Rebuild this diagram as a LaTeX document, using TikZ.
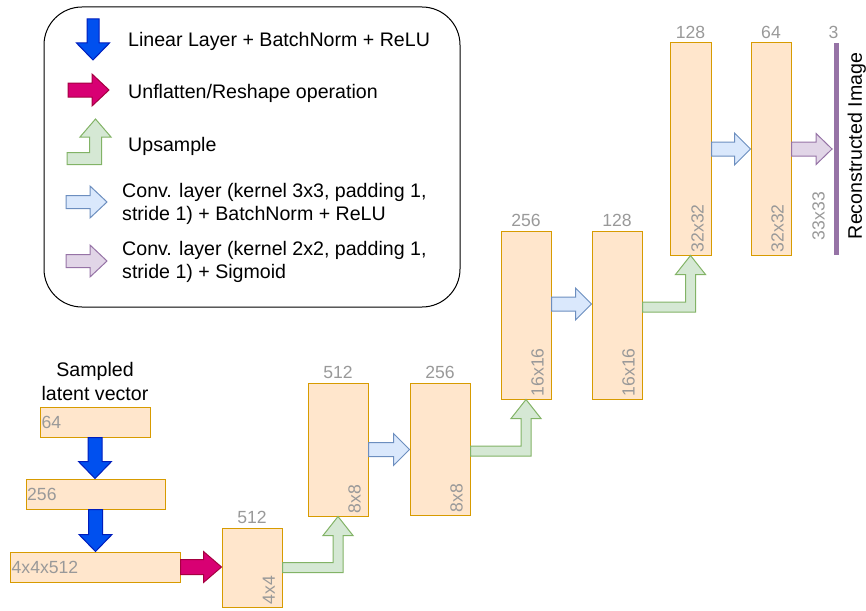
\documentclass[tikz,border=0pt]{standalone}
\usepackage{fontspec}
\setmainfont{Liberation Sans}
\usepackage{xcolor}
\usetikzlibrary{positioning,calc}

\definecolor{boxfill}{HTML}{FFE6CC}
\definecolor{boxline}{HTML}{D79B00}
\definecolor{dimgray}{HTML}{999999}
\definecolor{linfill}{HTML}{0050EF}
\definecolor{linline}{HTML}{001DBC}
\definecolor{rsfill}{HTML}{D80073}
\definecolor{rsline}{HTML}{A50040}
\definecolor{upfill}{HTML}{D5E8D4}
\definecolor{upline}{HTML}{82B366}
\definecolor{cvfill}{HTML}{DAE8FC}
\definecolor{cvline}{HTML}{6C8EBF}
\definecolor{sgfill}{HTML}{E1D5E7}
\definecolor{sgline}{HTML}{9673A6}

\tikzset{
  blk shaft/.store in=\blkS, blk head/.store in=\blkH, blk len/.store in=\blkL,
  blk shaft=7pt, blk head=16pt, blk len=17pt
}

\newcommand{\rightblk}[3]{%
  \draw[#1] let \p1=(#2), \p2=(#3) in
    (\x1,{\y1+\blkS}) -- ({\x2-\blkL},{\y1+\blkS}) -- ({\x2-\blkL},{\y1+\blkH})
    -- (\x2,\y1) -- ({\x2-\blkL},{\y1-\blkH}) -- ({\x2-\blkL},{\y1-\blkS})
    -- (\x1,{\y1-\blkS}) -- cycle;}
\newcommand{\downblk}[3]{%
  \draw[#1] let \p1=(#2), \p2=(#3) in
    ({\x1-\blkS},\y1) -- ({\x1+\blkS},\y1) -- ({\x1+\blkS},{\y2+\blkL})
    -- ({\x1+\blkH},{\y2+\blkL}) -- (\x1,\y2) -- ({\x1-\blkH},{\y2+\blkL})
    -- ({\x1-\blkS},{\y2+\blkL}) -- cycle;}
\newcommand{\upblk}[3]{%
  \draw[#1] let \p1=(#2), \p2=(#3) in
    (\x1,{\y1+\blkS}) -- ({\x2-\blkS},{\y1+\blkS}) -- ({\x2-\blkS},{\y2-\blkL})
    -- ({\x2-\blkH},{\y2-\blkL}) -- (\x2,\y2) -- ({\x2+\blkH},{\y2-\blkL})
    -- ({\x2+\blkS},{\y2-\blkL}) -- ({\x2+\blkS},{\y1-\blkS}) -- (\x1,{\y1-\blkS}) -- cycle;}

\begin{document}
\begin{tikzpicture}[x=1pt,y=-1pt,
  box/.style={draw=boxline,fill=boxfill,line width=1pt,inner sep=0},
  dim/.style={text=dimgray,font=\fontsize{17.6}{21}\selectfont,inner sep=0},
  txt/.style={font=\fontsize{19.6}{23.5}\selectfont,inner sep=0},
  linarr/.style={fill=linfill,draw=linline,line width=1pt,blk shaft=7pt,blk head=16.5pt,blk len=17pt},
  rsarr/.style={fill=rsfill,draw=rsline,line width=1pt,blk shaft=7.5pt,blk head=15.5pt,blk len=18pt},
  uparr/.style={fill=upfill,draw=upline,line width=1pt,blk shaft=5pt,blk head=15pt,blk len=19pt},
  cvarr/.style={fill=cvfill,draw=cvline,line width=1pt,blk shaft=7pt,blk head=16pt,blk len=16pt},
  sgarr/.style={fill=sgfill,draw=sgline,line width=1pt,blk shaft=7pt,blk head=15.5pt,blk len=16pt}]
  \useasboundingbox (0,0) rectangle (866,610);

  % legend
  \node[draw,line width=1pt,rounded corners=38pt,minimum width=416,minimum height=300] (legend) at (252,157) {};
  \downblk{linarr,blk shaft=6pt}{93,19}{93,60}
  \rightblk{rsarr,blk shaft=7pt,blk head=16pt,blk len=17pt}{68,90}{109,90}
  \upblk{uparr,blk shaft=6pt,blk head=15.5pt,blk len=18pt}{67,158.5}{95.5,119}
  \rightblk{cvarr,blk shaft=6.5pt,blk len=17pt}{66,202}{107,202}
  \rightblk{sgarr,blk shaft=6.5pt,blk head=16pt,blk len=17pt}{66,261}{107,261}
  \node[txt,anchor=base west] (lg-lin) at (128,46) {Linear Layer + BatchNorm + ReLU};
  \node[txt,anchor=base west] (lg-rs) at (128,98) {Unflatten/Reshape operation};
  \node[txt,anchor=base west] (lg-up) at (128,151) {Upsample};
  \node[txt,anchor=west,align=left] (lg-cv) at (122,204) {Conv. layer (kernel 3x3, padding 1,\\stride 1) + BatchNorm + ReLU};
  \node[txt,anchor=west,align=left] (lg-sg) at (122,262) {Conv. layer (kernel 2x2, padding 1,\\stride 1) + Sigmoid};

  % latent vector
  \node[box,minimum width=110,minimum height=30] (v1) at (95,422) {};
  \node[box,minimum width=139,minimum height=30] (v2) at (95.5,494) {};
  \node[box,minimum width=170,minimum height=30] (v3) at (95,567) {};
  \node[dim,anchor=west] (v1-sz) at ($(v1.west)+(2,0)$) {64};
  \node[dim,anchor=west] (v2-sz) at ($(v2.west)+(1.5,0)$) {256};
  \node[dim,anchor=west] (v3-sz) at ($(v3.west)+(2,0)$) {4x4x512};
  \node[txt,align=center,above=6pt of v1] (latent) {Sampled\\latent vector};

  % feature maps
  \foreach \nm/\cx/\cy/\w/\h/\chn/\sz in {c1/252/567.5/60/79/512/4x4,
      c2/338/449.5/60/133/512/8x8, c3/440/449/60/132/256/8x8,
      c4/526/315/50/168/256/16x16, c5/617/315/50/168/128/16x16,
      c6/690.5/149/41/212/128/32x32, c7/771/149/40/212/64/32x32} {
    \node[box,minimum width=\w,minimum height=\h] (\nm) at (\cx,\cy) {};
    \node[dim,above=4pt of \nm] (\nm-top) {\chn};
    \node[dim,rotate=90,anchor=south west] (\nm-sz) at ($(\nm.south east)+(-7.5,-3)$) {\sz};
  }
  \node[fill=sgline,minimum width=4.5,minimum height=212,inner sep=0] (img) at (836.5,149) {};
  \node[dim,above=4pt of img,xshift=-3] (img-top) {3};
  \node[dim,rotate=90,anchor=south west] (img-sz) at ($(img.south west)+(-9,-15)$) {33x33};
  \node[txt,rotate=90,anchor=north] (img-txt) at ($(img.east)+(8.5,-3)$) {Reconstructed Image};

  % connectors
  \downblk{linarr}{v1.south}{v2.north}
  \downblk{linarr}{v2.south}{v3.north}
  \rightblk{rsarr}{v3.east}{c1.west}
  \upblk{uparr}{c1.east}{c2.south}
  \rightblk{cvarr}{c2.east}{c3.west}
  \upblk{uparr}{$(c3.east)+(0,2)$}{c4.south}
  \rightblk{cvarr}{$(c4.east)+(0,-11)$}{$(c5.west)+(0,-11)$}
  \upblk{uparr}{$(c5.east)+(0,-8)$}{c6.south}
  \rightblk{cvarr}{c6.east}{c7.west}
  \rightblk{sgarr}{c7.east}{$(img.west)+(-2,0)$}
\end{tikzpicture}
\end{document}
